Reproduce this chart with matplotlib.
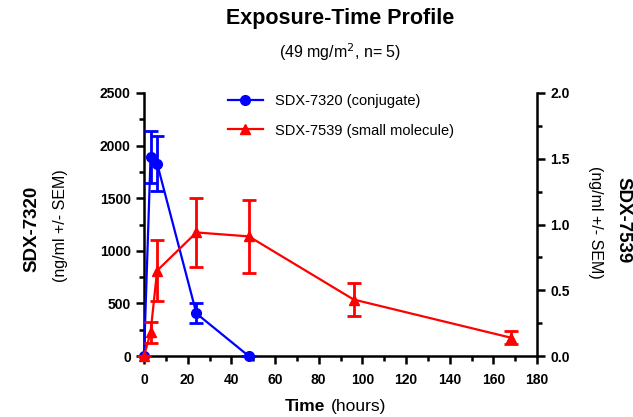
import matplotlib.pyplot as plt
from matplotlib.lines import Line2D
from matplotlib.ticker import MultipleLocator

plt.rcParams['font.family'] = ['Liberation Sans', 'DejaVu Sans']

# SDX-7320 (conjugate), left axis
t_conj = [0, 3, 6, 24, 48]
conj = [0, 1890, 1830, 405, 0]
conj_sem = [0, 245, 260, 95, 0]

# SDX-7539 (small molecule), right axis
t_small = [0, 3, 6, 24, 48, 96, 168]
small = [0, 0.18, 0.65, 0.94, 0.91, 0.43, 0.14]
small_sem = [0, 0.08, 0.23, 0.26, 0.28, 0.125, 0.05]

blue = '#0000ff'
red = '#ff0000'

fig = plt.figure(figsize=(6.33, 4.17), dpi=100)
ax = fig.add_axes([0.2275, 0.146, 0.621, 0.631])
ax2 = ax.twinx()

ax.errorbar(t_conj, conj, yerr=conj_sem, color=blue, marker='o', ms=7,
            lw=1.6, elinewidth=2, capsize=5, capthick=2, clip_on=False, zorder=3)
ax2.errorbar(t_small, small, yerr=small_sem, color=red, marker='^', ms=7,
             lw=1.6, elinewidth=2, capsize=5, capthick=2, clip_on=False, zorder=3)

ax.set_xlim(0, 180)
ax.set_ylim(0, 2500)
ax2.set_ylim(0, 2.0)
ax.xaxis.set_major_locator(MultipleLocator(20))
ax.xaxis.set_minor_locator(MultipleLocator(10))
ax.yaxis.set_major_locator(MultipleLocator(500))
ax.yaxis.set_minor_locator(MultipleLocator(250))
ax2.yaxis.set_major_locator(MultipleLocator(0.5))
ax2.yaxis.set_minor_locator(MultipleLocator(0.25))
ax2.set_yticklabels([f'{v:.1f}' for v in ax2.get_yticks()])

for a in (ax, ax2):
    for s in a.spines.values():
        s.set_linewidth(1.8)
    a.spines['top'].set_visible(False)
    a.tick_params(which='major', length=6, width=1.8, labelsize=10)
    a.tick_params(which='minor', length=3.5, width=1.8)
    for lab in a.get_xticklabels() + a.get_yticklabels():
        lab.set_fontweight('bold')
ax.tick_params(axis='x', pad=6)
ax.spines['right'].set_visible(False)
ax2.spines['left'].set_visible(False)
ax2.spines['bottom'].set_visible(False)

handles = [Line2D([], [], color=blue, marker='o', ms=7, lw=1.6),
           Line2D([], [], color=red, marker='^', ms=7, lw=1.6)]
labels = ['SDX-7320 (conjugate)', 'SDX-7539 (small molecule)']
ax2.legend(handles, labels, loc='upper left', bbox_to_anchor=(0.18, 1.045),
           frameon=False, fontsize=10.5, handlelength=2.4, labelspacing=1.05)

fig.text(0.537, 0.955, 'Exposure-Time Profile', ha='center', va='center',
         fontsize=15.5, fontweight='bold')
fig.text(0.537, 0.875, '(49 mg/m$^2$, n= 5)', ha='center', va='center', fontsize=11.5)

fig.text(0.051, 0.45, 'SDX-7320', rotation=90, ha='center', va='center',
         fontsize=13.5, fontweight='bold')
fig.text(0.095, 0.46, '(ng/ml +/- SEM)', rotation=90, ha='center', va='center',
         fontsize=11.5)
fig.text(0.984, 0.472, 'SDX-7539', rotation=270, ha='center', va='center',
         fontsize=13.5, fontweight='bold')
fig.text(0.94, 0.467, '(ng/ml +/- SEM)', rotation=270, ha='center', va='center',
         fontsize=11.5)

fig.text(0.513, 0.025, 'Time', ha='right', va='center', fontsize=12.5, fontweight='bold')
fig.text(0.523, 0.025, '(hours)', ha='left', va='center', fontsize=12.5)

fig.savefig('out.png', dpi=100)
